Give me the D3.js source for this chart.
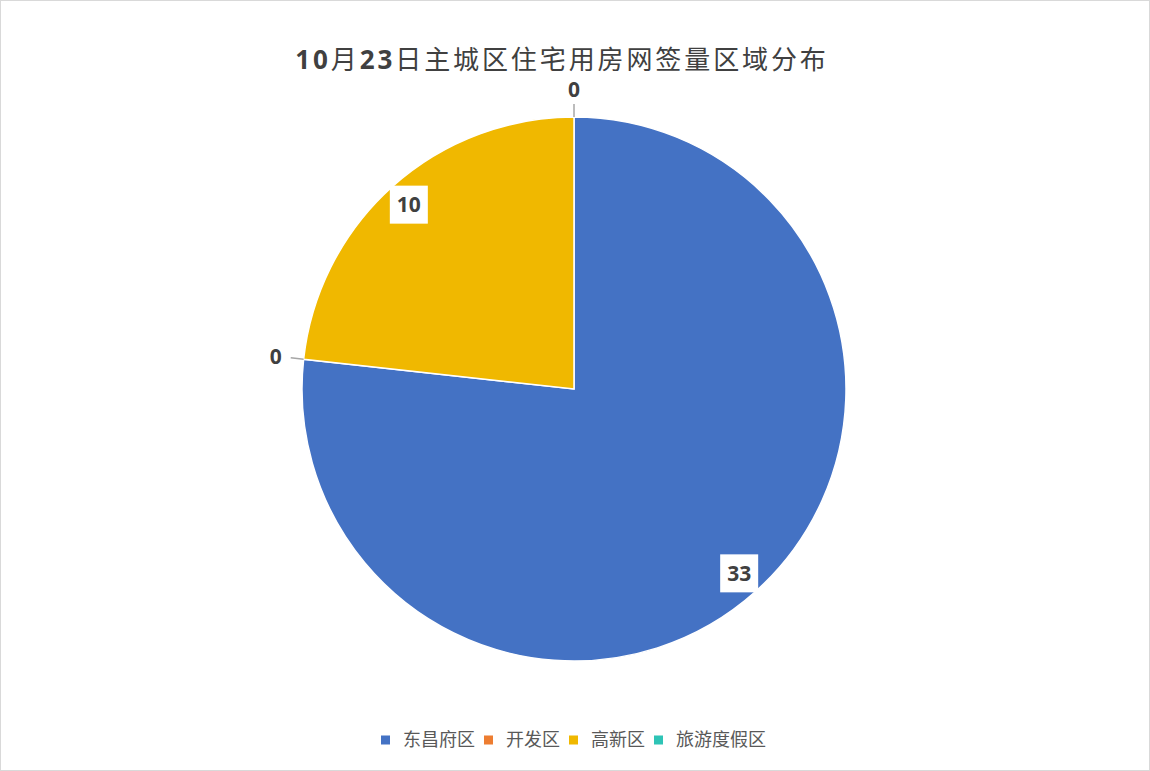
<!DOCTYPE html>
<html>
<head>
<meta charset="utf-8">
<script src="https://cdn.jsdelivr.net/npm/d3@7"></script>
<style>
  body { margin: 0; background: #fff; }
  svg { display: block; }
</style>
</head>
<body>
<div id="chart"></div>
<script>
var width = 1150,
  height = 771;

// data
var title = "10月23日主城区住宅用房网签量区域分布";
var districts = ["东昌府区", "开发区", "高新区", "旅游度假区"];
var values = [33, 0, 10, 0];
var colors = ["#4472C4", "#ED7D31", "#F0B800", "#2EC4B6"];

var cx = 574,
  cy = 389,
  radius = 272;

var svg = d3
  .select("#chart")
  .append("svg")
  .attr("width", width)
  .attr("height", height);

// chart frame
svg
  .append("rect")
  .attr("x", 0.5)
  .attr("y", 0.5)
  .attr("width", width - 1)
  .attr("height", height - 1)
  .attr("fill", "#fff")
  .attr("stroke", "#d9d9d9");

// title: digits bold, CJK regular
var titleText = svg
  .append("text")
  .attr("x", 562)
  .attr("y", 69)
  .attr("text-anchor", "middle")
  .style("font-family", "'Open Sans','Noto Sans CJK SC',sans-serif")
  .style("font-size", "26px")
  .style("letter-spacing", "2.9px")
  .attr("fill", "#404040");
title.match(/(\d+|\D+)/g).forEach(function (part) {
  titleText
    .append("tspan")
    .style("font-weight", /\d/.test(part) ? "bold" : "normal")
    .text(part);
});

var pie = d3.pie().sort(null).value(function (d) { return d.value; });
var data = districts.map(function (d, i) {
  return { name: d, value: values[i], color: colors[i] };
});
var arcs = pie(data);

var arc = d3.arc().innerRadius(0).outerRadius(radius);

var g = svg.append("g").attr("transform", "translate(" + cx + "," + cy + ")");

g.selectAll("path")
  .data(arcs.filter(function (d) { return d.value > 0; }))
  .enter()
  .append("path")
  .attr("d", arc)
  .attr("fill", function (d) { return d.data.color; })
  .attr("stroke", "#fff")
  .attr("stroke-width", 1.5);

// labels
function polar(r, a) {
  return [r * Math.sin(a), -r * Math.cos(a)];
}
var labelFont = "'Open Sans','DejaVu Sans',sans-serif";

arcs.forEach(function (d) {
  if (d.value > 0) {
    var mid = (d.startAngle + d.endAngle) / 2;
    var p = polar(radius * 0.91, mid);
    var lbl = g.append("g").attr("transform", "translate(" + p[0] + "," + p[1] + ")");
    lbl
      .append("rect")
      .attr("x", -19)
      .attr("y", -19)
      .attr("width", 38)
      .attr("height", 38)
      .attr("fill", "#fff");
    lbl
      .append("text")
      .attr("text-anchor", "middle")
      .attr("dy", "0.36em")
      .style("font-family", labelFont)
      .style("font-size", "21px")
      .style("font-weight", "bold")
      .attr("fill", "#404040")
      .text(d.value);
  } else {
    var a = d.startAngle;
    var p1 = polar(radius, a),
      p2 = polar(radius + 13, a),
      p3 = polar(radius + 28, a);
    g.append("line")
      .attr("x1", p1[0])
      .attr("y1", p1[1])
      .attr("x2", p2[0])
      .attr("y2", p2[1])
      .attr("stroke", "#a6a6a6")
      .attr("stroke-width", 1.5);
    g.append("text")
      .attr("x", p3[0])
      .attr("y", p3[1])
      .attr("text-anchor", "middle")
      .attr("dy", "0.36em")
      .style("font-family", labelFont)
      .style("font-size", "21px")
      .style("font-weight", "bold")
      .attr("fill", "#404040")
      .text(d.value);
  }
});

// legend
var legendX = [381, 484, 569, 654];
var legend = svg
  .selectAll(".legend")
  .data(data)
  .enter()
  .append("g")
  .attr("class", "legend")
  .attr("transform", function (d, i) { return "translate(" + legendX[i] + ",740)"; });

legend
  .append("rect")
  .attr("x", 0)
  .attr("y", -4.5)
  .attr("width", 9)
  .attr("height", 9)
  .attr("fill", function (d) { return d.color; });

legend
  .append("text")
  .attr("x", 22)
  .attr("dy", "0.36em")
  .style("font-family", "'Noto Sans CJK SC',sans-serif")
  .style("font-size", "18px")
  .attr("fill", "#595959")
  .text(function (d) { return d.name; });
</script>
</body>
</html>
